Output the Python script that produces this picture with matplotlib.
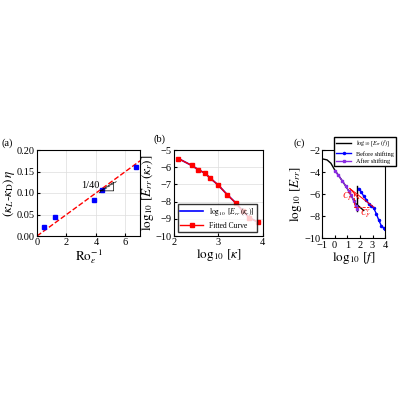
import numpy as np
import matplotlib
matplotlib.use('Agg')
import matplotlib.pyplot as plt
plt.rcParams['font.family'] = ['Liberation Serif', 'DejaVu Serif']
plt.rcParams['mathtext.fontset'] = 'stix'

a_x = [0.5, 1.2, 3.9, 4.4, 6.7]
a_y = [0.020, 0.045, 0.083, 0.108, 0.160]
a_slope = 1/40

b_x = [2.1, 2.4, 2.55, 2.7, 2.8, 3.0, 3.2, 3.4, 3.55, 3.7, 3.9]
b_y = [-5.5, -5.9, -6.15, -6.35, -6.6, -7.05, -7.6, -8.1, -8.55, -8.95, -9.2]

c_black_x = [-1.0, -0.6, -0.3, 0.0, 0.3, 0.6, 1.0, 1.3, 1.6, 1.8, 2.0, 2.3]
c_black_y = [-2.8, -2.9, -3.2, -3.8, -4.3, -4.8, -5.5, -6.1, -6.8, -7.0, -7.2, -7.5]
c_before_x = [1.9, 2.1, 2.3, 2.5, 2.7, 2.9, 3.1, 3.3, 3.5, 3.7, 3.9, 4.0]
c_before_y = [-5.5, -5.8, -6.2, -6.5, -6.9, -7.1, -7.3, -7.8, -8.4, -8.9, -9.1, -9.15]
c_after_x = [0.0, 0.3, 0.6, 0.9, 1.1, 1.3, 1.5, 1.7, 1.8]
c_after_y = [-3.9, -4.3, -4.8, -5.3, -5.7, -6.1, -6.6, -7.1, -7.4]

fig = plt.figure(figsize=(4, 4), dpi=100)
fs = 7.5
lfs = 9.5
# panel a
ax = fig.add_axes([0.0925, 0.41, 0.258, 0.215])
xx = np.array([0, 7])
ax.plot(xx, a_slope*xx, 'r--', lw=1)
ax.plot(a_x, a_y, 's', color='blue', ms=3.5)
ax.set_xlim(0, 7); ax.set_ylim(0, 0.2)
ax.set_xticks([0, 2, 4, 6]); ax.set_yticks([0, 0.05, 0.1, 0.15, 0.2])
ax.set_yticklabels(['0.00', '0.05', '0.10', '0.15', '0.20'])
ax.grid(True, color='#dddddd', lw=0.5)
ax.tick_params(labelsize=fs, direction='in', length=2, pad=1.5)
ax.set_xlabel(r'$\mathrm{Ro}_\varepsilon^{-1}$', fontsize=lfs, labelpad=0)
ax.set_ylabel(r'$(\kappa_L\text{-}\kappa_\mathrm{D})\,\eta$', fontsize=lfs, labelpad=0)
ax.plot([4.3, 5.2, 5.2, 4.3], [0.105, 0.125, 0.105, 0.105], 'k-', lw=0.5)
ax.plot([4.2, 5.4], [0.10, 0.127], 'k--', lw=0.5)
ax.text(3.0, 0.112, '1/40', fontsize=fs)
fig.text(0.005, 0.635, '(a)', fontsize=fs)
# panel b
ax = fig.add_axes([0.435, 0.41, 0.222, 0.215])
ax.plot(b_x, b_y, 'b-', lw=1.2, label=r'$\log_{10}\ [E_{rr}\,(\kappa_r)]$')
ax.plot(b_x, b_y, 'r-s', lw=1, ms=3, label='Fitted Curve')
ax.set_xlim(2, 4); ax.set_ylim(-10, -5)
ax.set_xticks([2, 3, 4]); ax.set_yticks([-10, -9, -8, -7, -6, -5])
ax.grid(True, color='#dddddd', lw=0.5)
ax.tick_params(labelsize=fs, direction='in', length=2, pad=1.5)
ax.set_xlabel(r'$\log_{10}\,[\kappa]$', fontsize=lfs, labelpad=0)
ax.set_ylabel(r'$\log_{10}\,[E_{rr}\,(\kappa_r)]$', fontsize=lfs, labelpad=0)
ax.legend(loc='lower left', fontsize=5.5, frameon=True, fancybox=False, edgecolor='k', borderpad=0.3, handlelength=3)
fig.text(0.385, 0.645, '(b)', fontsize=fs)
# panel c
ax = fig.add_axes([0.805, 0.405, 0.158, 0.22])
ax.plot(c_black_x, c_black_y, 'k-', lw=1, label=r'$\log_{10}\,[E_{rr}\,(f)]$')
ax.plot([1.75, 1.75], [-5.3, -7.5], 'k-', lw=1)
ax.plot(c_before_x, c_before_y, '-o', color='blue', lw=1, ms=1.5, label='Before shifting')
ax.plot(c_after_x, c_after_y, '-s', color='#8a2be2', lw=1, ms=1.5, label='After shifting')
ax.plot([1.2, 3.1], [-5.5, -7.2], 'r-', lw=0.7)
ax.plot([1.2, 1.9], [-5.5, -6.4], 'r-', lw=0.7)
ax.plot([1.5, 1.5, 2.7], [-5.9, -7.2, -7.2], 'r--', lw=0.6)
ax.text(0.6, -6.4, r'$C_F^v$', color='r', fontsize=6)
ax.text(2.0, -7.9, r'$C_F^r$', color='r', fontsize=6)
ax.set_xlim(-1, 4); ax.set_ylim(-10, -2)
ax.set_xticks([-1, 0, 1, 2, 3, 4]); ax.set_yticks([-10, -8, -6, -4, -2])
ax.tick_params(labelsize=fs, direction='in', length=2, pad=1)
ax.tick_params(axis='x', pad=2.5)
ax.set_xlabel(r'$\log_{10}\,[f]$', fontsize=lfs, labelpad=0)
ax.set_ylabel(r'$\log_{10}\,[E_{rr}]$', fontsize=lfs, labelpad=0)
ax.legend(loc='upper right', bbox_to_anchor=(0.998, 0.665), bbox_transform=fig.transFigure,
          fontsize=4.5, frameon=True, fancybox=False, edgecolor='k', borderpad=0.3,
          handlelength=2.5, labelspacing=0.3, framealpha=1)
fig.text(0.735, 0.635, '(c)', fontsize=fs)
fig.savefig('out.png', dpi=100)
